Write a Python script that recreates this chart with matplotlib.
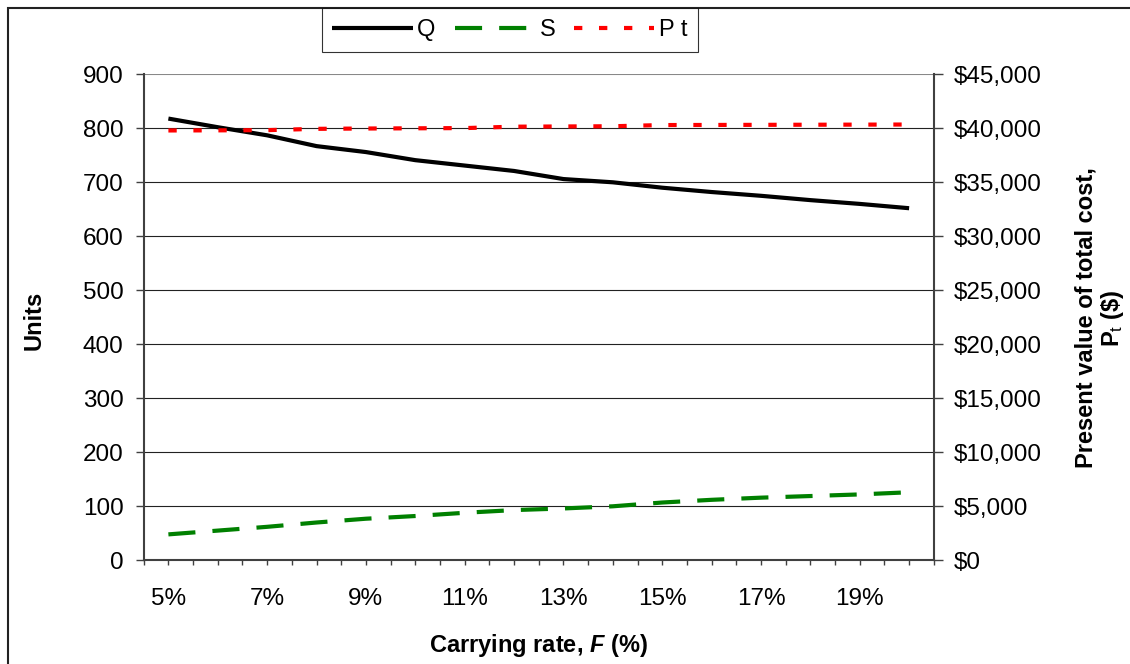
import numpy as np
import matplotlib
matplotlib.use("Agg")
from matplotlib import pyplot as plt
from matplotlib.patches import Rectangle
from matplotlib.ticker import FuncFormatter

# carrying rate F (%) on the category axis
rates = [5, 6, 7, 8, 9, 10, 11, 12, 13, 14, 15, 16, 17, 18, 19, 20]
# order quantity Q and safety stock S (units, left axis)
Q = [818, 802, 787, 767, 756, 741, 731, 721, 706, 700, 690, 682, 675, 667, 660, 652]
S = [48, 55, 62, 70, 77, 82, 88, 93, 96, 100, 107, 112, 116, 119, 122, 126]
# present value of total cost Pt ($, right axis)
Pt = [39800, 39810, 39830, 39950, 39980, 40000, 40020, 40150,
      40170, 40190, 40300, 40310, 40320, 40330, 40340, 40350]

plt.rcParams['font.family'] = ['Liberation Sans', 'DejaVu Sans']
plt.rcParams['mathtext.fontset'] = 'custom'
plt.rcParams['mathtext.rm'] = 'Liberation Sans'
plt.rcParams['mathtext.it'] = 'Liberation Sans:bold:italic'
plt.rcParams['mathtext.bf'] = 'Liberation Sans:bold'

W, H = 1130, 664
fig = plt.figure(figsize=(W / 100, H / 100), dpi=100)
fig.patch.set_facecolor('white')

# plot area in pixels
left, right, top, bottom = 143.7, 933.8, 74.3, 560.3
ax = fig.add_axes([left / W, 1 - bottom / H, (right - left) / W, (bottom - top) / H])
ax2 = ax.twinx()

x = np.arange(len(rates))
lQ, = ax.plot(x, Q, color='black', lw=3.0, solid_capstyle='butt', zorder=3)
lS, = ax.plot(x, S, color='#008000', lw=3.0, linestyle=(0, (6.5, 4.1)),
              dash_capstyle='butt', zorder=3)
lP, = ax2.plot(x, Pt, color='#ff0000', lw=3.0, linestyle=(0, (2, 4)),
               dash_capstyle='butt', zorder=3)

ax.set_xlim(-0.5, len(rates) - 0.5)
ax.set_ylim(0, 900)
ax2.set_ylim(0, 45000)
ax.set_yticks(np.arange(0, 901, 100))
ax2.set_yticks(np.arange(0, 45001, 5000))
ax2.yaxis.set_major_formatter(FuncFormatter(lambda v, p: "${:,.0f}".format(v)))

ax.set_xticks(x[::2])
ax.set_xticklabels(["%d%%" % r for r in rates[::2]])
ax.set_xticks(np.arange(-0.5, len(rates), 0.5), minor=True)

ax.yaxis.grid(True, color='#222222', lw=0.8)
ax.get_ygridlines()[-1].set_color('#888888')
ax.get_ygridlines()[-1].set_linewidth(1.5)
ax.set_axisbelow(True)

for s in ['top', 'right']:
    ax.spines[s].set_visible(False)
for s in ['top', 'left', 'bottom']:
    ax2.spines[s].set_visible(False)
for sp in [ax.spines['left'], ax.spines['bottom'], ax2.spines['right']]:
    sp.set_color('#404040')
    sp.set_linewidth(1.5)

ax.tick_params(axis='y', direction='out', length=5.5, width=1, color='#404040',
               pad=9.0, labelsize=17.5)
ax2.tick_params(axis='y', direction='out', length=6.2, width=1, color='#404040',
                pad=8.0, labelsize=17.5)
ax.tick_params(axis='x', which='both', direction='out', length=3.6, width=1,
               color='#404040', pad=16.0, labelsize=17.5)

fig.text(34 / W, 1 - 320 / H, "Units", rotation=90, ha='center', va='center',
         fontsize=17, fontweight='bold')
fig.text(538.5 / W, 1 - 652 / H, "Carrying rate, $\\mathit{F}$ (%)", ha='center',
         va='baseline', fontsize=17, fontweight='bold')
fig.text(1100 / W, 1 - 318 / H, "Present value of total cost,\nP$_\\mathrm{t}$ (\\$)",
         rotation=90, ha='center', va='center', multialignment='center',
         fontsize=17, fontweight='bold', linespacing=1.1)

leg = fig.legend([lQ, lS, lP], ["Q", "S", "P t"], loc='center',
                 bbox_to_anchor=(510 / W, 1 - 30 / H), ncol=3, frameon=True,
                 fancybox=False, shadow=False, edgecolor='black', fontsize=17,
                 handlelength=3.4, handletextpad=0.2, columnspacing=0.8,
                 borderpad=0.45, borderaxespad=0)
leg.get_frame().set_linewidth(0.8)

# border around the chart (runs off the right and bottom edges)
fig.patches.append(Rectangle((8 / W, -0.05), 1.2, 1 - 8 / H + 0.05,
                             transform=fig.transFigure, fill=False,
                             edgecolor='#222222', lw=1.5))

fig.savefig("out.png", dpi=100)
